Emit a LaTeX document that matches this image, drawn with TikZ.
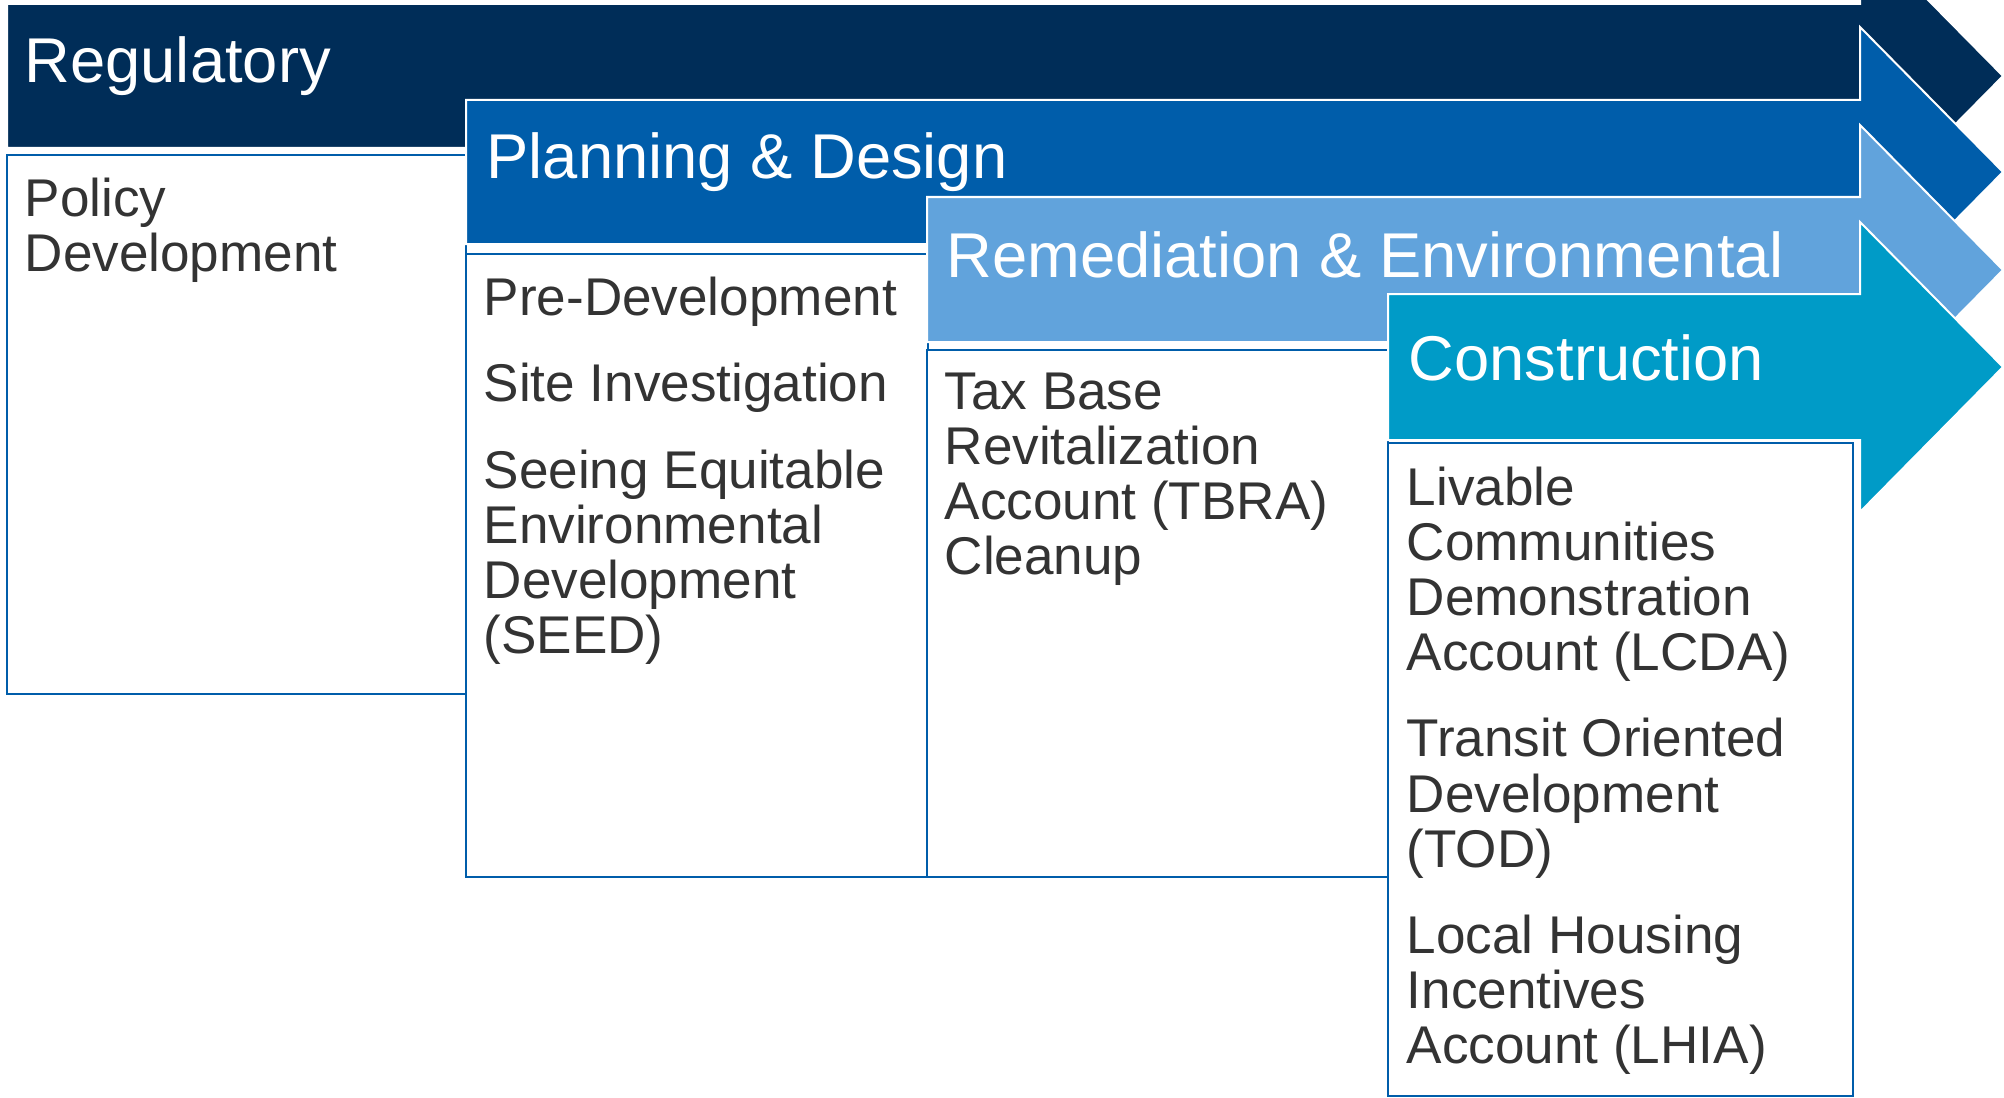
\documentclass[tikz,border=0pt]{standalone}
\usepackage{fontspec}
\setmainfont{Liberation Sans}
\usepackage{xcolor}
\usepackage{tikz}

\definecolor{regblue}{HTML}{002D58}
\definecolor{planblue}{HTML}{005DAA}
\definecolor{remblue}{HTML}{61A3DC}
\definecolor{conblue}{HTML}{009BC7}
\definecolor{boxblue}{HTML}{005DAA}
\definecolor{textgray}{HTML}{333333}

\begin{document}
\begin{tikzpicture}[
	x=0.01cm,
	y=-0.01cm
]
\tikzset{
    phasearrow/.style = {draw=white, line width=0.02cm, line join=miter},
    listbox/.style = {draw=boxblue, line width=0.02cm, fill=white},
    phasetitle/.style = {anchor=base west, inner sep=0pt, text=white, font=\fontsize{18}{20}\selectfont},
    listtext/.style = {anchor=north west, inner sep=0pt, align=left, text=textgray, font=\fontsize{15.1}{15.65}\selectfont}
}
\useasboundingbox (0,0) rectangle (2004,1097);
\clip (0,0) rectangle (2004,1097);
% regulatory
\fill[regblue, phasearrow] (7,4) -- (1860,4) -- (1860,-69) -- (2003,76) -- (1860,221) -- (1860,148) -- (7,148) -- cycle;
\node[phasetitle] (regulatory) at (24,83) {Regulatory};
\draw[listbox] (7,155) rectangle (466,694);
\node[listtext] (policy) at (24,177) {Policy\\Development};
% planning and design
\fill[planblue, phasearrow] (466,100) -- (1860,100) -- (1860,27) -- (2003,172) -- (1860,317) -- (1860,244) -- (466,244) -- cycle;
\node[phasetitle] (planning) at (486,179) {Planning \& Design};
\draw[listbox] (466,254) rectangle (928,877);
\node[listtext] (predev) at (483,276) {Pre-Development\\[9pt]
	Site Investigation\\[9pt]
	Seeing Equitable\\Environmental\\Development\\(SEED)};
% remediation
\fill[remblue, phasearrow] (927,197) -- (1860,197) -- (1860,125) -- (2003,270) -- (1860,415) -- (1860,342) -- (927,342) -- cycle;
\node[phasetitle] (remediation) at (946,277) {Remediation \& Environmental};
\draw[listbox] (927,350) rectangle (1388,877);
\node[listtext] (tbra) at (944,372) {Tax Base\\Revitalization\\Account (TBRA)\\Cleanup};
% construction
\fill[conblue, phasearrow] (1388,294) -- (1860,294) -- (1860,222) -- (2003,367) -- (1860,512) -- (1860,440) -- (1388,440) -- cycle;
\node[phasetitle] (construction) at (1408,380) {Construction};
\draw[listbox] (1388,443) rectangle (1853,1096);
\node[listtext] (lcda) at (1406,466) {Livable\\Communities\\Demonstration\\Account (LCDA)\\[9pt]
	Transit Oriented\\Development\\(TOD)\\[9pt]
	Local Housing\\Incentives\\Account (LHIA)};
\end{tikzpicture}
\end{document}
